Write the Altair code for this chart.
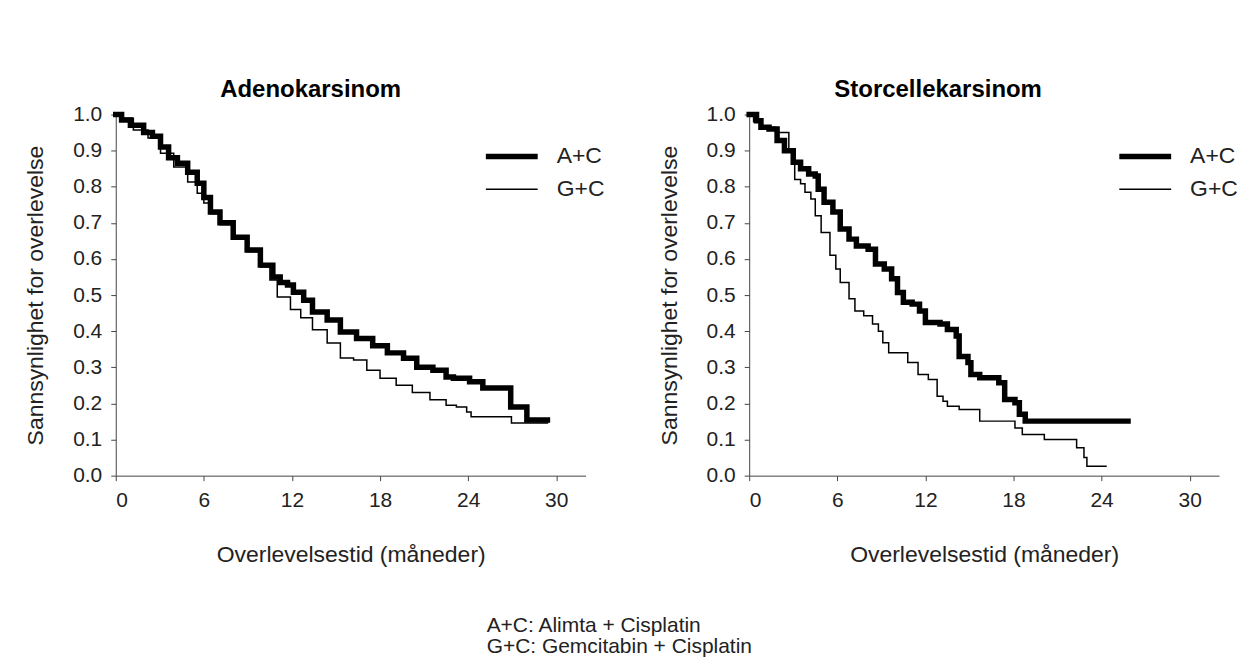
import altair as alt
import pandas as pd

FONT = "Liberation Sans"

# ---- data ----
arms = ["A+C", "G+C"]

adeno_ac_t = [0, 0.4, 1.0, 1.9, 2.5, 3.05, 3.6, 4.2, 4.9, 5.55, 6.0, 6.45, 7.1, 8.0, 8.95, 9.85, 10.7,
              11.2, 11.7, 12.1, 12.8, 13.4, 14.4, 15.3, 16.4, 17.5, 18.5, 19.6, 20.5, 21.6, 22.5, 23.0,
              24.1, 25.0, 26.9, 28.0, 29.4]
adeno_ac_s = [1.0, 0.985, 0.97, 0.95, 0.94, 0.91, 0.88, 0.865, 0.84, 0.81, 0.77, 0.73, 0.70, 0.66, 0.625,
              0.583, 0.55, 0.535, 0.528, 0.508, 0.486, 0.453, 0.431, 0.398, 0.38, 0.36, 0.34, 0.325,
              0.30, 0.292, 0.273, 0.27, 0.26, 0.243, 0.19, 0.154, 0.154]

adeno_gc_t = [0, 0.3, 1.2, 2.2, 3.05, 3.95, 4.9, 5.55, 6.0, 6.45, 7.1, 8.0, 8.95, 9.85, 10.5, 11.0, 11.9,
              12.6, 13.4, 14.4, 15.3, 16.2, 17.1, 18.0, 19.1, 20.2, 21.4, 22.5, 23.2, 23.9, 24.2, 26.95,
              29.4]
adeno_gc_s = [1.0, 0.99, 0.957, 0.935, 0.893, 0.855, 0.813, 0.782, 0.755, 0.725, 0.695, 0.655, 0.62,
              0.578, 0.542, 0.495, 0.46, 0.437, 0.404, 0.367, 0.326, 0.32, 0.292, 0.27, 0.25, 0.23,
              0.21, 0.195, 0.19, 0.176, 0.163, 0.146, 0.146]

large_ac_t = [0, 0.5, 0.8, 1.35, 1.9, 2.4, 3.0, 3.5, 4.05, 4.5, 4.7, 5.1, 5.7, 6.2, 6.8, 7.3, 8.1, 8.6,
              9.2, 9.7, 10.1, 10.5, 11.1, 11.6, 12.0, 13.0, 13.5, 14.1, 14.3, 14.9, 15.1, 15.7, 17.0,
              17.4, 18.1, 18.4, 18.8, 25.8]
large_ac_s = [1.0, 0.983, 0.965, 0.96, 0.928, 0.90, 0.868, 0.85, 0.835, 0.83, 0.793, 0.757, 0.73, 0.683,
              0.655, 0.636, 0.627, 0.586, 0.572, 0.545, 0.507, 0.48, 0.475, 0.456, 0.424, 0.42, 0.405,
              0.387, 0.33, 0.313, 0.28, 0.271, 0.257, 0.211, 0.202, 0.17, 0.151, 0.151]

large_gc_t = [0, 0.3, 0.8, 1.8, 2.7, 3.0, 3.1, 3.5, 3.8, 4.2, 4.5, 4.9, 5.5, 5.9, 6.2, 6.8, 7.2, 7.8,
              8.4, 8.8, 9.1, 9.5, 10.8, 11.5, 12.2, 12.8, 13.2, 13.5, 14.3, 15.7, 18.1, 18.6, 20.1,
              22.3, 22.8, 23.0, 24.3]
large_gc_s = [1.0, 0.98, 0.965, 0.95, 0.90, 0.868, 0.82, 0.808, 0.785, 0.766, 0.72, 0.673, 0.61, 0.572,
              0.535, 0.49, 0.456, 0.443, 0.42, 0.40, 0.368, 0.34, 0.313, 0.28, 0.266, 0.22, 0.206,
              0.192, 0.183, 0.151, 0.132, 0.114, 0.10, 0.077, 0.05, 0.026, 0.026]

x_ticks = [0, 6, 12, 18, 24, 30]
y_ticks = [0.0, 0.1, 0.2, 0.3, 0.4, 0.5, 0.6, 0.7, 0.8, 0.9, 1.0]
footnote = ["A+C: Alimta + Cisplatin", "G+C: Gemcitabin + Cisplatin"]


def frame(ac_t, ac_s, gc_t, gc_s):
    a = pd.DataFrame({"t": ac_t, "s": ac_s, "arm": arms[0]})
    g = pd.DataFrame({"t": gc_t, "s": gc_s, "arm": arms[1]})
    return pd.concat([a, g], ignore_index=True)


def panel(df, title, title_dx):
    return alt.Chart(df, title=alt.TitleParams(
        title, font=FONT, fontSize=24, fontWeight="bold", color="black", offset=2,
        frame="bounds", anchor="middle", dx=title_dx
    )).mark_line(interpolate="step-after", color="black", strokeCap="square").encode(
        x=alt.X("t:Q", scale=alt.Scale(domain=[0, 32], nice=False),
                axis=alt.Axis(values=x_ticks, title="Overlevelsestid (måneder)",
                              titlePadding=33, labelPadding=9)),
        y=alt.Y("s:Q", scale=alt.Scale(domain=[0, 1], nice=False),
                axis=alt.Axis(values=y_ticks, format=".1f",
                              title="Sannsynlighet for overlevelse",
                              titlePadding=25, labelPadding=9)),
        strokeWidth=alt.StrokeWidth(
            "arm:N", scale=alt.Scale(domain=arms, range=[5.5, 1.5]),
            legend=alt.Legend(title=None, orient="none", legendX=368, legendY=32,
                              symbolType="stroke", symbolSize=2700, symbolStrokeColor="black",
                              clipHeight=20, rowPadding=10, labelOffset=16, padding=0,
                              labelFont=FONT, labelFontSize=23, labelColor="#222")),
        detail="arm:N",
    ).properties(width=471, height=362)


left = panel(frame(adeno_ac_t, adeno_ac_s, adeno_gc_t, adeno_gc_s), "Adenokarsinom", -4)
right = panel(frame(large_ac_t, large_ac_s, large_gc_t, large_gc_s), "Storcellekarsinom", -10)

chart = alt.hconcat(left, right, spacing=53, title=alt.TitleParams(
    footnote, orient="bottom", anchor="start", align="left", dx=463, offset=49,
    font=FONT, fontSize=21, fontWeight="normal", color="#222", lineHeight=21
)).resolve_legend(strokeWidth="independent").resolve_scale(strokeWidth="independent").properties(
    padding={"left": 16, "top": 69, "right": 2, "bottom": 0}
).configure_view(stroke=None).configure_axis(
    grid=False, domainColor="#444", tickColor="#444", tickSize=5,
    labelFont=FONT, labelFontSize=21, labelColor="#222",
    titleFont=FONT, titleFontSize=23, titleFontWeight="normal", titleColor="#222"
)

chart.save("out.html", embed_options={"renderer": "svg", "actions": False})
